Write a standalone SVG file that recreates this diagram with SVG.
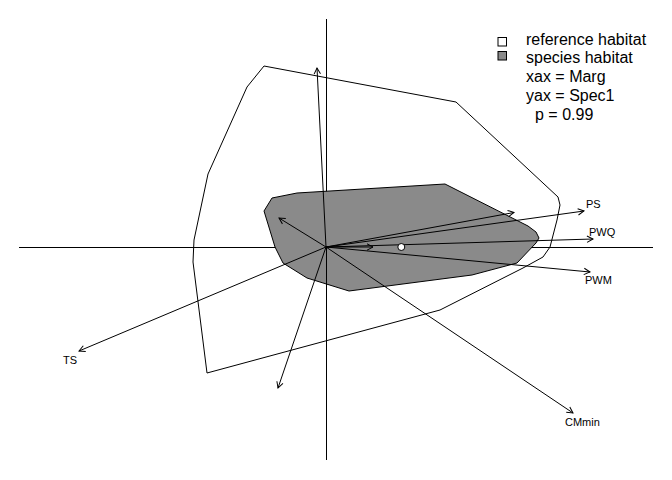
<svg xmlns="http://www.w3.org/2000/svg" width="672" height="480" viewBox="0 0 672 480">
<style>
.ln{stroke:#000;stroke-width:1;fill:none}
.ar{stroke:#000;stroke-width:1;fill:none;marker-end:url(#ah)}
.lbl{font-family:"Liberation Sans",Arial,sans-serif;font-size:11px;fill:#000}
.lg{font-family:"Liberation Sans",Arial,sans-serif;font-size:16px;fill:#000}
</style>
<defs>
<marker id="ah" markerUnits="userSpaceOnUse" markerWidth="12" markerHeight="12" viewBox="-8 -6 12 12" refX="0" refY="0" orient="auto">
<path d="M-6,-3.2 L0,0 L-6,3.2" fill="none" stroke="#000" stroke-width="1"/>
</marker>
</defs>
<rect width="672" height="480" fill="#fff"/>
<g id="axes">
<line class="ln" x1="19" y1="247.5" x2="653" y2="247.5"/>
<line class="ln" x1="326.5" y1="19" x2="326.5" y2="247.5"/>
</g>
<g id="reference-habitat">
<polygon class="ln" points="264,66 456,102 558,197 560,205 557,220 550,247 543,257 523,268 440,310 207,373 193,262 194,240 208,174 247,87"/>
</g>
<g id="species-habitat">
<polygon points="297,193 445,184 528,226 536,232 539,238 536,243 517,263 472,275 349,291 307,278 283,263 275,247 264,211 272,198" fill="#8a8a8a" stroke="#000" stroke-width="1"/>
</g>
<g id="axis-lower">
<line class="ln" x1="326.5" y1="247.5" x2="326.5" y2="460"/>
</g>
<g id="connectors">
<line class="ar" x1="326" y1="247" x2="317" y2="68"/>
<line class="ar" x1="326" y1="247" x2="279" y2="218"/>
<line class="ar" x1="326" y1="247" x2="373" y2="247"/>
<line class="ar" x1="326" y1="247" x2="514" y2="212.5"/>
<line class="ar" x1="326" y1="247" x2="584" y2="211"/>
<line class="ar" x1="326" y1="247" x2="593" y2="239"/>
<line class="ar" x1="326" y1="247" x2="590" y2="272"/>
<line class="ar" x1="326" y1="247" x2="573" y2="413"/>
<line class="ar" x1="326" y1="247" x2="79" y2="351"/>
<line class="ar" x1="326" y1="247" x2="278" y2="388"/>
</g>
<g id="centroid">
<circle cx="401.3" cy="247" r="3.5" fill="#fff" stroke="#000" stroke-width="1"/>
</g>
<g id="labels">
<text class="lbl" x="586" y="208">PS</text>
<text class="lbl" x="589" y="236">PWQ</text>
<text class="lbl" x="585" y="284">PWM</text>
<text class="lbl" x="565" y="426">CMmin</text>
<text class="lbl" x="63" y="364">TS</text>
</g>
<g id="legend">
<rect x="498" y="37.5" width="8.5" height="8.5" fill="#fff" stroke="#000" stroke-width="1"/>
<rect x="498" y="51.5" width="8.5" height="8.5" fill="#8a8a8a" stroke="#000" stroke-width="1"/>
<text class="lg" x="526" y="45">reference habitat</text>
<text class="lg" x="526" y="63">species habitat</text>
<text class="lg" x="526" y="82">xax = Marg</text>
<text class="lg" x="526" y="101">yax = Spec1</text>
<text class="lg" x="535" y="119.5">p = 0.99</text>
</g>
</svg>
